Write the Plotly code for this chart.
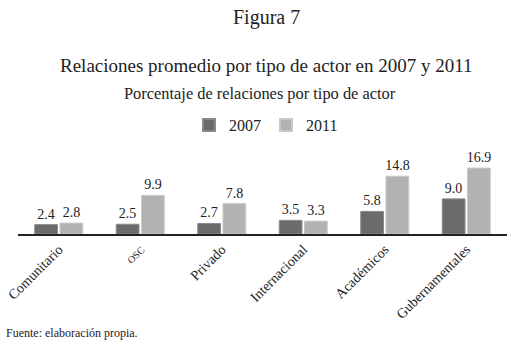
import plotly.graph_objects as go

categories = ["Comunitario", "OSC", "Privado", "Internacional", "Académicos", "Gubernamentales"]
tick_labels = ["Comunitario", "<span style='font-size:10px'>OSC</span>", "Privado", "Internacional", "Académicos", "Gubernamentales"]
values_2007 = [2.4, 2.5, 2.7, 3.5, 5.8, 9.0]
values_2011 = [2.8, 9.9, 7.8, 3.3, 14.8, 16.9]
labels_2007 = ["2.4", "2.5", "2.7", "3.5", "5.8", "9.0"]
labels_2011 = ["2.8", "9.9", "7.8", "3.3", "14.8", "16.9"]

FONT = "Liberation Serif, DejaVu Serif, serif"
W, H = 511, 348
L, R, T, B = 18, 4, 150, 114
PW = W - L - R
PH = H - T - B

def px(x):
    return (x - L) / PW

def py(y):
    return (H - B - y) / PH

fig = go.Figure()
fig.add_trace(go.Bar(
    x=categories, y=values_2007, name="2007", text=labels_2007,
    textposition="outside", cliponaxis=False, constraintext="none",
    marker=dict(color="#6b6b6b", line=dict(color="#8a8a8a", width=1)),
    textfont=dict(family=FONT, size=14, color="#222222"),
))
fig.add_trace(go.Bar(
    x=categories, y=values_2011, name="2011", text=labels_2011,
    textposition="outside", cliponaxis=False, constraintext="none",
    marker=dict(color="#b2b2b2", line=dict(color="#c8c8c8", width=1)),
    textfont=dict(family=FONT, size=14, color="#222222"),
))

fig.update_layout(
    width=W, height=H,
    margin=dict(l=L, r=R, t=T, b=B, autoexpand=False),
    paper_bgcolor="white", plot_bgcolor="white",
    barmode="group", bargap=0.38, bargroupgap=0.1,
    font=dict(family=FONT, color="#222222"),
    showlegend=True,
    legend=dict(orientation="h", x=px(266), y=py(125), xanchor="center", yanchor="middle",
                font=dict(family=FONT, size=16, color="#222222"),
                itemwidth=30, tracegroupgap=0, itemsizing="constant"),
    xaxis=dict(tickmode="array", tickvals=categories, ticktext=tick_labels,
               tickangle=-45, tickfont=dict(family=FONT, size=14, color="#222222"),
               showline=True, linecolor="#222222", linewidth=1.5, automargin=False,
               ticks="", showgrid=False, range=[-0.5, 5.5]),
    yaxis=dict(range=[0, PH / 3.9], visible=False, showgrid=False, zeroline=False, automargin=False),
    annotations=[
        dict(text="Figura 7", x=px(266), y=py(17), xref="paper", yref="paper",
             showarrow=False, xanchor="center", yanchor="middle",
             font=dict(family=FONT, size=20, color="#222222")),
        dict(text="Relaciones promedio por tipo de actor en 2007 y 2011", x=px(266), y=py(65),
             xref="paper", yref="paper", showarrow=False, xanchor="center", yanchor="middle",
             font=dict(family=FONT, size=19, color="#222222")),
        dict(text="Porcentaje de relaciones por tipo de actor", x=px(260), y=py(93),
             xref="paper", yref="paper", showarrow=False, xanchor="center", yanchor="middle",
             font=dict(family=FONT, size=16.4, color="#222222")),
        dict(text="Fuente: elaboración propia.", x=px(4), y=py(333),
             xref="paper", yref="paper", showarrow=False, xanchor="left", yanchor="middle",
             font=dict(family=FONT, size=12, color="#222222")),
    ],
)

fig.write_html("out.html", config={"displayModeBar": False},
               post_script="document.body.style.margin='0';")
